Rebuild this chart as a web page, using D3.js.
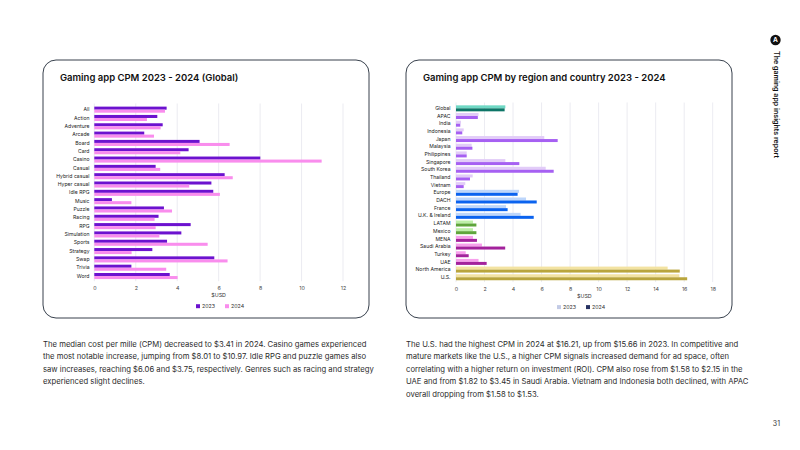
<!DOCTYPE html>
<html>
<head>
<meta charset="utf-8">
<script src="https://cdn.jsdelivr.net/npm/d3@7"></script>
<style>
  body { margin: 0; background: #fff; }
  svg text { font-family: Inter, "Noto Sans", sans-serif; }
</style>
</head>
<body>
<div id="page"></div>
<script>
// Datos: CPM por género (global)
const genres = ["All", "Action", "Adventure", "Arcade", "Board", "Card", "Casino", "Casual",
  "Hybrid casual", "Hyper casual", "Idle RPG", "Music", "Puzzle", "Racing", "RPG",
  "Simulation", "Sports", "Strategy", "Swap", "Trivia", "Word"];
const genre2023 = [3.49, 3.04, 3.30, 2.41, 5.08, 4.55, 8.01, 2.96, 6.29, 5.65, 5.74, 0.85,
  3.36, 3.10, 4.65, 4.20, 3.51, 2.80, 5.79, 1.79, 3.64];
const genre2024 = [3.41, 2.54, 3.20, 2.88, 6.53, 4.15, 10.97, 3.18, 6.68, 4.58, 6.06, 1.79,
  3.75, 2.91, 2.96, 3.14, 5.47, 1.80, 6.43, 3.47, 4.02];
const genreTicks = [0, 2, 4, 6, 8, 10, 12];

// Datos: CPM por región y país
const regions = ["Global", "APAC", "India", "Indonesia", "Japan", "Malaysia", "Philippines",
  "Singapore", "South Korea", "Thailand", "Vietnam", "Europe", "DACH", "France",
  "U.K. & Ireland", "LATAM", "Mexico", "MENA", "Saudi Arabia", "Turkey", "UAE",
  "North America", "U.S."];
const regionGroup = ["global", "apac", "apac", "apac", "apac", "apac", "apac", "apac", "apac",
  "apac", "apac", "europe", "europe", "europe", "europe", "latam", "latam", "mena", "mena",
  "mena", "mena", "na", "na"];
const region2023 = [3.46, 1.58, 0.35, 0.54, 6.19, 1.10, 0.75, 3.46, 6.29, 1.17, 0.65, 4.42,
  4.91, 3.51, 4.53, 1.19, 1.19, 1.19, 1.82, 0.68, 1.58, 14.84, 15.66];
const region2024 = [3.41, 1.53, 0.30, 0.44, 7.13, 1.15, 0.75, 4.44, 6.85, 0.98, 0.54, 4.32,
  5.66, 3.62, 5.45, 1.43, 1.43, 1.47, 3.45, 0.89, 2.15, 15.69, 16.21];
const regionTicks = [0, 2, 4, 6, 8, 10, 12, 14, 16, 18];

const years = ["2023", "2024"];

const leftText = [
  "The median cost per mille (CPM) decreased to $3.41 in 2024. Casino games experienced",
  "the most notable increase, jumping from $8.01 to $10.97. Idle RPG and puzzle games also",
  "saw increases, reaching $6.06 and $3.75, respectively. Genres such as racing and strategy",
  "experienced slight declines."
];
const rightText = [
  "The U.S. had the highest CPM in 2024 at $16.21, up from $15.66 in 2023. In competitive and",
  "mature markets like the U.S., a higher CPM signals increased demand for ad space, often",
  "correlating with a higher return on investment (ROI). CPM also rose from $1.58 to $2.15 in the",
  "UAE and from $1.82 to $3.45 in Saudi Arabia. Vietnam and Indonesia both declined, with APAC",
  "overall dropping from $1.58 to $1.53."
];

const genreColors = { "2023": "#6c12cf", "2024": "#f98ded" };
const groupColors = {
  global: ["#6fd8c4", "#0d7567"],
  apac:   ["#e2ccf8", "#a660f2"],
  europe: ["#bdd6fb", "#0b63ef"],
  latam:  ["#bdf0a8", "#5fa53c"],
  mena:   ["#f7a0ec", "#a3229c"],
  na:     ["#f3e3a2", "#b9a53d"]
};

const svg = d3.select("#page").append("svg")
  .attr("width", 800)
  .attr("height", 450);

// Tarjetas
function card(x, title) {
  svg.append("rect")
    .attr("x", x).attr("y", 60)
    .attr("width", 326).attr("height", 258)
    .attr("rx", 13)
    .attr("fill", "none")
    .attr("stroke", "#38414d")
    .attr("stroke-width", 1);
  svg.append("text")
    .attr("x", x + 17).attr("y", 81)
    .attr("font-size", 9.5)
    .attr("font-weight", 600)
    .attr("fill", "#111")
    .text(title);
}
card(43, "Gaming app CPM 2023 - 2024 (Global)");
card(406, "Gaming app CPM by region and country 2023 - 2024");

// Función genérica de gráfico de barras horizontales agrupadas
function barChart(opts) {
  const x = d3.scaleLinear()
    .domain([0, opts.ticks[opts.ticks.length - 1]])
    .range([opts.x0, opts.x1]);

  const y = d3.scaleBand()
    .domain(opts.cats)
    .range([opts.y0, opts.y1])
    .paddingInner(opts.pad)
    .paddingOuter(opts.pad / 2);

  const ySub = d3.scaleBand()
    .domain(years)
    .range([0, y.bandwidth()]);

  const g = svg.append("g");

  // Rejilla
  g.selectAll(".grid")
    .data(opts.ticks)
    .enter()
    .append("line")
    .attr("x1", d => x(d)).attr("x2", d => x(d))
    .attr("y1", opts.y0 - 2).attr("y2", opts.y1 + 1)
    .attr("stroke", "#e6e6ee")
    .attr("stroke-width", 0.8);

  // Eje X
  const xAxis = g.append("g")
    .attr("transform", `translate(0,${opts.y1 + 3})`)
    .call(d3.axisBottom(x).tickValues(opts.ticks).tickSize(0).tickPadding(3));
  xAxis.select(".domain").remove();
  xAxis.selectAll("text")
    .attr("font-size", 5.3)
    .attr("fill", "#444")
    .style("font-family", "Inter, 'Noto Sans', sans-serif");

  // Eje Y
  const yAxis = g.append("g")
    .attr("transform", `translate(${opts.labelX},0)`)
    .call(d3.axisLeft(y).tickSize(0).tickPadding(0));
  yAxis.select(".domain").remove();
  yAxis.selectAll("text")
    .attr("font-size", 5.1)
    .attr("fill", "#222")
    .style("font-family", "Inter, 'Noto Sans', sans-serif");

  // Barras
  const rows = opts.cats.map((c, i) => ({
    cat: c, i: i,
    vals: [{ year: "2023", v: opts.v23[i] }, { year: "2024", v: opts.v24[i] }]
  }));

  g.selectAll(".row")
    .data(rows)
    .enter()
    .append("g")
    .attr("transform", d => `translate(0,${y(d.cat)})`)
    .selectAll("rect")
    .data(d => d.vals.map(v => Object.assign({ i: d.i }, v)))
    .enter()
    .append("rect")
    .attr("x", x(0))
    .attr("y", d => ySub(d.year))
    .attr("height", ySub.bandwidth())
    .attr("width", d => x(d.v) - x(0))
    .attr("fill", d => opts.color(d));

  // Título del eje
  g.append("text")
    .attr("x", (opts.x0 + opts.x1) / 2)
    .attr("y", opts.y1 + 17)
    .attr("text-anchor", "middle")
    .attr("font-size", 5.3)
    .attr("fill", "#333")
    .text("$USD");

  // Leyenda
  const leg = g.selectAll(".leg")
    .data(years)
    .enter()
    .append("g")
    .attr("transform", (d, i) => `translate(${opts.legX + i * 29},${opts.y1 + 24})`);
  leg.append("rect")
    .attr("width", 4).attr("height", 4)
    .attr("fill", (d, i) => opts.legColors[i]);
  leg.append("text")
    .attr("x", 6).attr("y", 3.8)
    .attr("font-size", 5.3)
    .attr("fill", "#333")
    .text(d => d);
}

barChart({
  cats: genres, v23: genre2023, v24: genre2024, ticks: genreTicks,
  x0: 94.3, x1: 343, y0: 105.5, y1: 280.2, pad: 0.27, labelX: 89.5,
  color: d => genreColors[d.year],
  legX: 196, legColors: [genreColors["2023"], genreColors["2024"]]
});

barChart({
  cats: regions, v23: region2023, v24: region2024, ticks: regionTicks,
  x0: 456, x1: 712.7, y0: 104.5, y1: 281.1, pad: 0.22, labelX: 450.5,
  color: d => groupColors[regionGroup[d.i]][d.year === "2023" ? 0 : 1],
  legX: 557, legColors: ["#c3cbe6", "#273262"]
});

// Párrafos
function para(x, lines) {
  svg.append("g").selectAll("text")
    .data(lines)
    .enter()
    .append("text")
    .attr("x", x)
    .attr("y", (d, i) => 347 + i * 12.4)
    .attr("font-size", 7.7)
    .attr("fill", "#2b2b2b")
    .text(d => d);
}
para(43, leftText);
para(406, rightText);

// Cabecera lateral
svg.append("circle")
  .attr("cx", 775.5).attr("cy", 40).attr("r", 5.2)
  .attr("fill", "#111");
svg.append("text")
  .attr("x", 775.5).attr("y", 42.3)
  .attr("text-anchor", "middle")
  .attr("font-size", 6.5)
  .attr("font-weight", 700)
  .attr("fill", "#fff")
  .text("A");
svg.append("text")
  .attr("transform", "translate(773.5,51) rotate(90)")
  .attr("font-size", 7.1)
  .attr("font-weight", 600)
  .attr("fill", "#111")
  .text("The gaming app insights report");

// Número de página
svg.append("text")
  .attr("x", 780).attr("y", 426)
  .attr("text-anchor", "end")
  .attr("font-size", 7)
  .attr("fill", "#333")
  .text("31");
</script>
</body>
</html>
